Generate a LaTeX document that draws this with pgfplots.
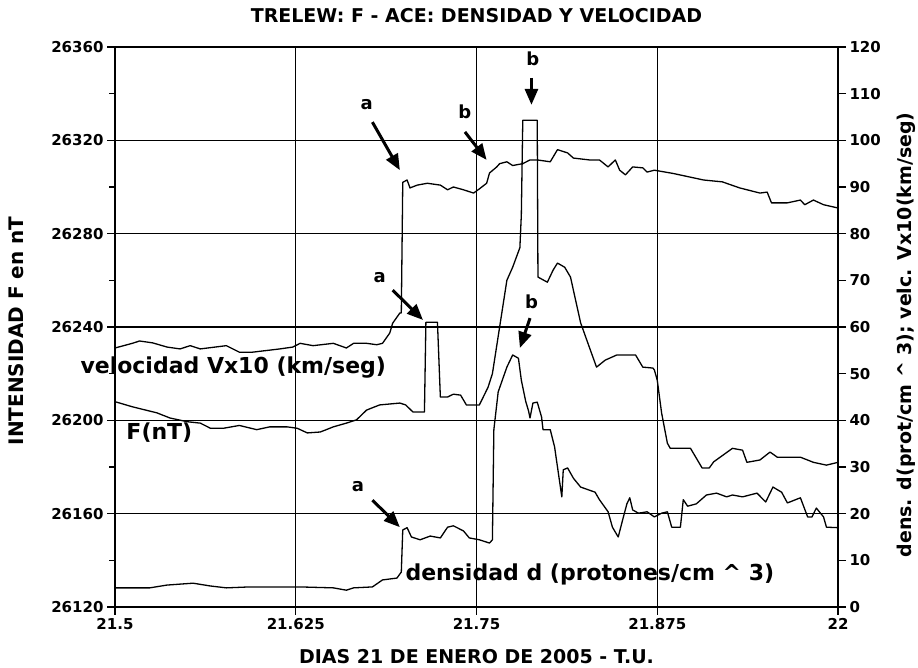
\documentclass[border=0pt]{standalone}
\usepackage{fontspec}
\setmainfont{DejaVu Sans}
\usepackage{pgfplots}
\pgfplotsset{compat=1.18}
\usetikzlibrary{arrows.meta}

% velocidad Vx10 (right axis units)
\pgfplotstableread{
x v
21.5 55.5
21.512 56.5
21.517 57.0
21.526 56.6
21.536 55.7
21.545 55.3
21.552 56.0
21.559 55.3
21.577 56.0
21.586 54.6
21.595 54.6
21.614 55.3
21.623 55.7
21.628 56.5
21.637 56.0
21.651 56.5
21.660 55.5
21.665 56.5
21.674 56.5
21.681 56.2
21.685 56.5
21.690 58.7
21.692 60.8
21.697 63.0
21.698 63.0
21.699 91.0
21.702 91.5
21.704 89.8
21.709 90.4
21.716 90.8
21.725 90.4
21.730 89.4
21.734 90.0
21.741 89.4
21.748 88.7
21.752 89.6
21.757 90.8
21.759 93.0
21.764 94.3
21.766 95.0
21.771 95.4
21.775 94.6
21.782 95.0
21.787 95.8
21.792 95.8
21.801 95.4
21.806 98.0
21.813 97.3
21.817 96.2
21.828 95.8
21.835 95.8
21.841 94.3
21.846 95.8
21.849 93.6
21.853 92.6
21.858 94.3
21.865 94.1
21.868 93.2
21.873 93.6
21.886 92.9
21.898 92.1
21.907 91.5
21.920 91.1
21.932 89.8
21.946 88.7
21.951 88.9
21.954 86.6
21.965 86.6
21.974 87.2
21.977 86.2
21.983 87.2
21.990 86.2
22.0 85.5
}\velo

% F (nT), left axis
\pgfplotstableread{
x F
21.5 26208
21.512 26205.8
21.529 26203.2
21.538 26201
21.550 26199.4
21.559 26198.8
21.566 26196.6
21.575 26196.6
21.586 26197.8
21.598 26196
21.607 26197.2
21.619 26197.2
21.626 26196.6
21.633 26194.6
21.642 26195
21.651 26197.2
21.660 26198.8
21.667 26200.2
21.674 26204.4
21.683 26206.6
21.697 26207.4
21.701 26206.6
21.706 26203.6
21.711 26203.6
21.714 26203.6
21.715 26242
21.723 26242
21.725 26210
21.730 26210
21.734 26211.2
21.739 26210.8
21.743 26206.6
21.752 26206.6
21.758 26214.2
21.761 26220
21.766 26240
21.771 26260
21.775 26265.6
21.780 26274
21.781 26288
21.782 26328.6
21.792 26328.6
21.7925 26261.4
21.799 26259.2
21.803 26264.4
21.806 26267.4
21.811 26265.6
21.815 26261.4
21.822 26241.8
21.828 26231.4
21.833 26222.8
21.839 26225.8
21.847 26228
21.860 26228
21.865 26222.8
21.872 26222.4
21.873 26221.6
21.875 26217.2
21.878 26203.2
21.882 26190.2
21.884 26188
21.898 26188
21.906 26179.6
21.911 26179.6
21.914 26182.2
21.927 26188
21.934 26187.2
21.937 26182
21.946 26183
21.953 26186.4
21.958 26184.2
21.974 26184.2
21.983 26182
21.992 26180.8
22.0 26182
}\campo

% densidad d (right axis units)
\pgfplotstableread{
x d
21.5 4.1
21.524 4.1
21.536 4.7
21.554 5.1
21.566 4.5
21.577 4.1
21.593 4.3
21.614 4.3
21.628 4.3
21.651 4.1
21.660 3.6
21.665 4.1
21.678 4.3
21.685 5.8
21.695 6.2
21.698 7.5
21.699 16.5
21.702 17.0
21.705 15.0
21.711 14.4
21.718 15.2
21.725 14.8
21.730 17.1
21.734 17.4
21.741 16.3
21.745 14.8
21.752 14.4
21.759 13.7
21.761 14.4
21.762 38.0
21.765 46.1
21.771 51.4
21.775 54.0
21.779 53.3
21.781 48.6
21.784 44.1
21.786 42.0
21.787 40.5
21.789 43.7
21.792 43.9
21.795 40.7
21.796 38.0
21.801 38.0
21.804 34.3
21.806 30.0
21.809 23.6
21.810 29.4
21.813 29.8
21.817 27.6
21.822 25.7
21.832 24.6
21.835 23.0
21.841 20.4
21.844 17.1
21.848 15.0
21.851 18.6
21.854 22.1
21.856 23.4
21.858 20.8
21.862 20.1
21.868 20.4
21.873 19.3
21.878 20.1
21.882 20.4
21.885 17.1
21.891 17.1
21.893 23.0
21.896 21.6
21.902 22.1
21.909 24.0
21.916 24.4
21.923 23.6
21.927 24.0
21.934 23.6
21.944 24.4
21.950 22.5
21.955 25.7
21.961 24.6
21.965 22.3
21.974 23.4
21.979 19.3
21.982 19.3
21.985 21.2
21.990 19.3
21.992 17.1
22.0 17.0
}\dens

\begin{document}
\begin{tikzpicture}
\useasboundingbox (0,0) rectangle (918pt,668pt);
\pgfplotsset{
  common/.style={
    at={(115pt,61pt)}, anchor=south west,
    scale only axis, width=723pt, height=560pt,
    xmin=21.5, xmax=22,
    scaled y ticks=false, scaled x ticks=false,
    tick align=outside,
    every tick/.style={black, line width=1.2pt},
    major tick length=8pt, minor tick length=6pt,
    axis line style={line width=1.5pt},
    ticklabel style={font=\fontsize{15}{15}\selectfont\bfseries},
  },
  serie/.style={black, line width=1.3pt, line join=round, mark=none},
}
\begin{axis}[common,
  ymin=26120, ymax=26360,
  xtick={21.5,21.625,21.75,21.875,22},
  xticklabels={21.5,21.625,21.75,21.875,22},
  ytick={26120,26160,26200,26240,26280,26320,26360},
  yticklabels={26120,26160,26200,26240,26280,26320,26360},
  minor ytick={26140,26180,26220,26260,26300,26340},
  xtick pos=bottom, ytick pos=left,
  xmajorgrids, ymajorgrids,
  major grid style={black, line width=1.2pt},
  title={TRELEW: F - ACE: DENSIDAD Y VELOCIDAD},
  title style={font=\fontsize{19}{19}\selectfont\bfseries, at={(axis description cs:0.5,1.0445)}, anchor=center},
  xlabel={DIAS 21 DE ENERO DE 2005 - T.U.},
  xlabel style={font=\fontsize{19}{19}\selectfont\bfseries, at={(axis description cs:0.5,-0.0893)}, anchor=center},
  ylabel={INTENSIDAD F en nT},
  ylabel style={font=\fontsize{20}{20}\selectfont\bfseries, at={(axis description cs:-0.137,0.493)}, anchor=center},
]
\addplot[serie] table[x=x, y=F] {\campo};
\end{axis}

\begin{axis}[common,
  ymin=0, ymax=120,
  axis x line=none, axis y line*=right,
  ytick={0,10,...,120},
  yticklabels={0,10,20,30,40,50,60,70,80,90,100,110,120},
  ylabel={dens. d(prot/cm \textasciicircum\ 3); velc. Vx10(km/seg)},
  ylabel style={font=\fontsize{19}{19}\selectfont\bfseries, at={(axis description cs:1.094,0.486)}, anchor=center},
  clip=false,
]
\addplot[serie] table[x=x, y=v] {\velo};
\addplot[serie] table[x=x, y=d] {\dens};

\node[anchor=west, font=\fontsize{22}{22}\selectfont\bfseries] at (axis cs:21.4737,51.4) {velocidad Vx10 (km/seg)};
\node[anchor=west, font=\fontsize{22}{22}\selectfont\bfseries] at (axis cs:21.5055,37.3) {F(nT)};
\node[anchor=west, font=\fontsize{22}{22}\selectfont\bfseries] at (axis cs:21.6985,6.9) {densidad d (protones/cm \textasciicircum\ 3)};

\begin{scope}[line width=3pt, -{Triangle[length=16pt,width=13pt]}]
\draw (axis cs:21.678,103.9) -- (axis cs:21.697,93.6);
\draw (axis cs:21.742,101.8) -- (axis cs:21.757,95.8);
\draw (axis cs:21.788,113.4) -- (axis cs:21.788,107.6);
\draw (axis cs:21.692,67.9) -- (axis cs:21.713,61.5);
\draw (axis cs:21.787,61.9) -- (axis cs:21.780,55.5);
\draw (axis cs:21.678,22.9) -- (axis cs:21.697,17.1);
\end{scope}
\begin{scope}[font=\fontsize{18}{18}\selectfont\bfseries]
\node at (axis cs:21.674,107.6) {a};
\node at (axis cs:21.742,106.1) {b};
\node at (axis cs:21.789,117.5) {b};
\node at (axis cs:21.683,70.5) {a};
\node at (axis cs:21.788,65.4) {b};
\node at (axis cs:21.668,25.7) {a};
\end{scope}
\end{axis}
\end{tikzpicture}
\end{document}
